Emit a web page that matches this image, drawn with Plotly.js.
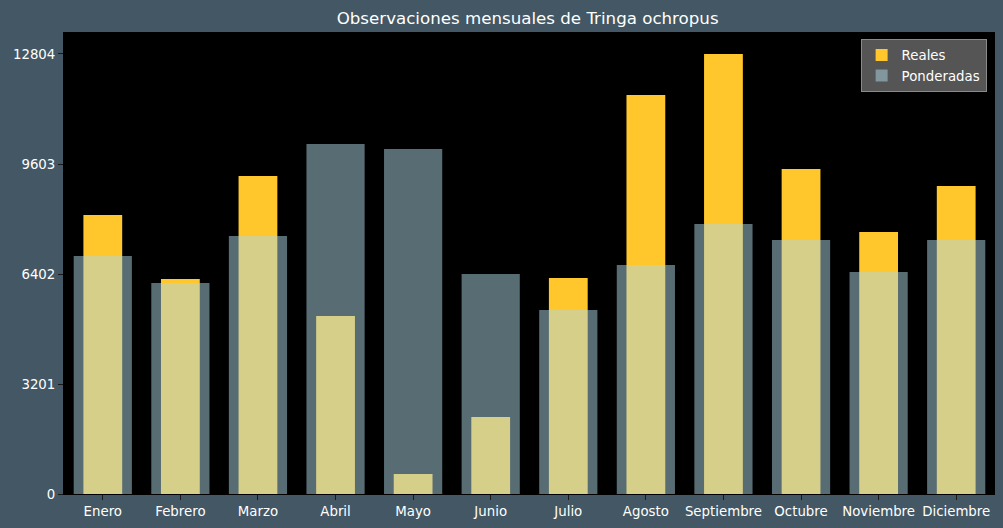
<!DOCTYPE html>
<html>
<head>
<meta charset="utf-8">
<script src="https://cdn.plot.ly/plotly-3.0.1.min.js"></script>
<style>html,body{margin:0;padding:0;background:#435764;}#chart{width:1003px;height:528px;}</style>
</head>
<body>
<div id="chart"></div>
<script>
const months = ["Enero","Febrero","Marzo","Abril","Mayo","Junio","Julio","Agosto","Septiembre","Octubre","Noviembre","Diciembre"];
const reales = [8119, 6257, 9254, 5180, 582, 2241, 6286, 11611, 12804, 9458, 7624, 8963];
const ponderadas = [6926, 6140, 7508, 10185, 10040, 6402, 5355, 6664, 7857, 7391, 6460, 7391];
const yTicks = [0, 3201, 6402, 9603, 12804];

const font = {family: "DejaVu Sans, sans-serif", color: "#ffffff", size: 13.33};

const traces = [
  {type: "bar", name: "Reales", x: months, y: reales, width: 0.5,
   marker: {color: "#ffc72c", line: {width: 0}}},
  {type: "bar", name: "Ponderadas", x: months, y: ponderadas, width: 0.75,
   marker: {color: "rgba(173,216,230,0.5)", line: {width: 0}}}
];

const layout = {
  width: 1003, height: 528,
  paper_bgcolor: "#435764", plot_bgcolor: "#000000",
  margin: {l: 64, r: 8, t: 32, b: 34},
  barmode: "overlay",
  font: font,
  title: {text: "Observaciones mensuales de Tringa ochropus", x: 0.498, xref: "paper", xanchor: "center", y: 0.966, yanchor: "middle",
          font: {family: "DejaVu Sans, sans-serif", size: 16.67, color: "#ffffff"}},
  xaxis: {type: "category", range: [-0.5, 11.5], showgrid: false, zeroline: false,
          ticks: "outside", ticklen: 5, tickcolor: "#1a1a1a", tickwidth: 1,
          showline: true, linecolor: "#000000", tickfont: font, fixedrange: true},
  yaxis: {range: [0, 13444], tickvals: yTicks, ticktext: yTicks.map(String), showgrid: false, zeroline: false,
          ticks: "outside", ticklen: 5, tickcolor: "#1a1a1a", tickwidth: 1,
          showline: true, linecolor: "#000000", tickfont: font, fixedrange: true},
  legend: {x: 0.991, xanchor: "right", y: 0.985, yanchor: "top",
           bgcolor: "#555555", bordercolor: "#8a8a8a", borderwidth: 1, tracegroupgap: 0,
           font: {family: "DejaVu Sans, sans-serif", size: 13.33, color: "#ffffff"}},
  showlegend: true
};

Plotly.newPlot("chart", traces, layout, {displayModeBar: false, staticPlot: true});
</script>
</body>
</html>
